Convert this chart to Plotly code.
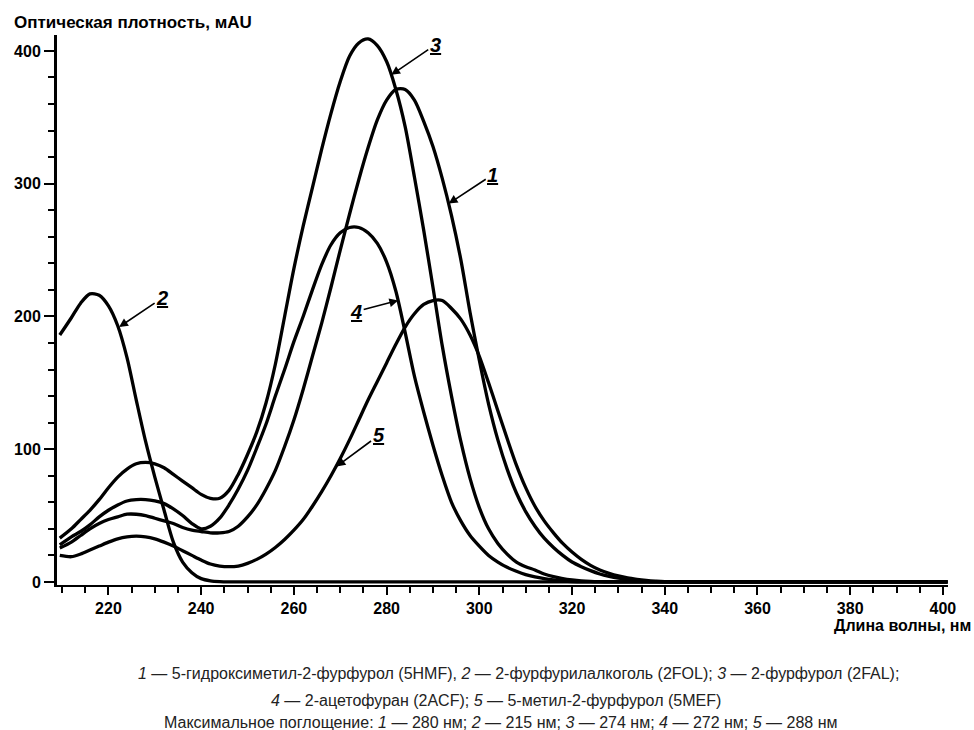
import plotly.graph_objects as go

# ---------------- data ----------------
WAVELENGTH = [209.5, 212, 214, 216, 218, 220, 222, 224, 226, 228,
              230, 232, 234, 236, 238, 240, 242, 244, 246, 248,
              250, 252, 254, 256, 258, 260, 262, 264, 266, 268,
              270, 272, 274, 276, 278, 280, 282, 284, 286, 288,
              290, 292, 294, 296, 298, 300, 302, 304, 306, 308,
              310, 312, 314, 316, 318, 320, 322, 324, 326, 328,
              330, 332, 334, 336, 338, 340, 360, 380, 401]

# 1 - 5-гидроксиметил-2-фурфурол (5HMF)
HMF_5 = [25.5, 30, 35, 40, 44, 47, 49, 51, 51, 50,
         48, 46, 44, 41, 39, 38, 37, 37, 38, 42,
         49, 58, 70, 84, 102, 122, 145, 170, 195, 222,
         250, 277, 303, 327, 348, 363, 371, 371, 363, 347,
         328, 304, 276, 243, 203, 167, 134, 107, 85, 67,
         53, 42, 33, 26, 20, 15, 11.5, 8.5, 6, 4.2,
         2.8, 1.8, 1, 0.5, 0.2, 0, 0, 0, 0]

# 2 - 2-фурфурилалкоголь (2FOL)
FOL_2 = [186, 199, 210, 217, 216, 208, 193, 169, 137, 106,
         79, 54, 30, 15, 7, 2.5, 0.8, 0.2, 0, 0,
         0, 0, 0, 0, 0, 0, 0, 0, 0, 0,
         0, 0, 0, 0, 0, 0, 0, 0, 0, 0,
         0, 0, 0, 0, 0, 0, 0, 0, 0, 0,
         0, 0, 0, 0, 0, 0, 0, 0, 0, 0,
         0, 0, 0, 0, 0, 0, 0, 0, 0]

# 3 - 2-фурфурол (2FAL)
FAL_2 = [33, 40, 47, 54, 62, 71, 79, 85, 89, 90,
         89, 86, 81, 76, 71, 66, 63, 63, 69, 81,
         96, 113, 135, 164, 200, 236, 268, 297, 326, 353,
         377, 396, 406, 409, 404, 392, 371, 343, 305, 265,
         222, 178, 140, 106, 78, 56, 40, 29, 21, 15,
         11.5, 9, 6, 4, 2.5, 1.5, 0.8, 0.4, 0.2, 0.1,
         0, 0, 0, 0, 0, 0, 0, 0, 0]

# 4 - 2-ацетофуран (2ACF)
ACF_2 = [28, 34, 38, 43, 49, 54, 58, 61, 62, 62,
         61, 59, 55, 50, 44, 40, 42, 48, 58, 70,
         84, 101, 119, 140, 160, 181, 200, 220, 239, 254,
         263, 267, 267, 263, 255, 241, 219, 188, 155, 128,
         103, 80, 60, 46, 35, 27, 20, 15, 11, 8,
         5.5, 3.8, 2.5, 1.5, 0.8, 0.3, 0, 0, 0, 0,
         0, 0, 0, 0, 0, 0, 0, 0, 0]

# 5 - 5-метил-2-фурфурол (5MEF)
MEF_5 = [20, 19, 21, 24, 27, 30, 32.5, 34, 34.5, 34,
         32.5, 30, 27, 23.5, 20, 16.5, 13.5, 12, 11.5, 12,
         14, 17, 21, 26, 32, 39, 47, 57, 68, 80,
         93, 107, 122, 137, 151, 165, 179, 192, 202, 209,
         212, 212, 206, 198, 186, 170, 150, 129, 108, 88,
         71, 57, 46, 37, 29, 22.5, 17, 12.5, 9, 6.5,
         4.5, 3, 2, 1.2, 0.6, 0.2, 0, 0, 0]

SERIES_NAMES = ["5HMF", "2FOL", "2FAL", "2ACF", "5MEF"]

X_TICK_START, X_TICK_STEP = 220, 20
Y_TICK_START, Y_TICK_STEP = 0, 100

Y_TITLE = "Оптическая плотность, мAU"
X_TITLE = "Длина волны, нм"
CAPTION_LINES = [
    "<i>1</i> — 5-гидроксиметил-2-фурфурол (5HMF), <i>2</i> — 2-фурфурилалкоголь (2FOL); <i>3</i> — 2-фурфурол (2FAL);",
    "<i>4</i> — 2-ацетофуран (2ACF); <i>5</i> — 5-метил-2-фурфурол (5MEF)",
    "Максимальное поглощение: <i>1</i> — 280 нм; <i>2</i> — 215 нм; <i>3</i> — 274 нм; <i>4</i> — 272 нм; <i>5</i> — 288 нм",
]

# ---------------- figure ----------------
FONT = "Liberation Sans, Arial, sans-serif"
series = [HMF_5, FOL_2, FAL_2, ACF_2, MEF_5]

fig = go.Figure()
for name, vals in zip(SERIES_NAMES, series):
    fig.add_trace(go.Scatter(
        x=WAVELENGTH, y=vals, name=name, mode="lines",
        line=dict(color="black", width=3.3, shape="spline", smoothing=0.8),
        hoverinfo="x+y+name",
    ))

# curve number labels (arrow tip on the curve, text offset in px)
label_specs = [
    # number, tip x, tip y, ax, ay
    ("3", 281.0, 382, 44, -30),
    ("1", 293.4, 285, 44, -29),
    ("2", 222.3, 192, 43, -29),
    ("4", 282.5, 212, -42, 11),
    ("5", 269.2, 87, 42, -31),
]
for num, tx, ty, ax, ay in label_specs:
    fig.add_annotation(
        x=tx, y=ty, xref="x", yref="y", ax=ax, ay=ay,
        text="<u><b><i>" + num + "</i></b></u>",
        showarrow=True, arrowhead=2, arrowsize=1.1, arrowwidth=1.6,
        arrowcolor="black", standoff=0, startstandoff=0,
        font=dict(family=FONT, size=20, color="black"),
    )

# axis titles
fig.add_annotation(
    x=-0.0505, y=1.0236, xref="paper", yref="paper",
    xanchor="left", yanchor="middle", showarrow=False,
    text="<b>" + Y_TITLE + "</b>",
    font=dict(family=FONT, size=17, color="black"),
)
fig.add_annotation(
    x=1.028, y=-0.0745, xref="paper", yref="paper",
    xanchor="right", yanchor="middle", showarrow=False,
    text="<b>" + X_TITLE + "</b>",
    font=dict(family=FONT, size=16, color="black"),
)

# caption
caption_pos = [(0.5174, -0.1618), (0.4927, -0.2091), (0.4983, -0.2509)]
for line, (cx, cy) in zip(CAPTION_LINES, caption_pos):
    fig.add_annotation(
        x=cx, y=cy, xref="paper", yref="paper",
        xanchor="center", yanchor="middle", showarrow=False,
        text=line, font=dict(family=FONT, size=16, color="#222222"),
    )

tickfont = dict(family=FONT, size=16, color="black", weight="bold")

fig.update_xaxes(
    range=[208.9, 401.1],
    tickmode="linear", tick0=X_TICK_START, dtick=X_TICK_STEP,
    ticks="outside", ticklen=8, tickwidth=2, tickcolor="black",
    showline=True, linewidth=2, linecolor="black",
    showgrid=False, zeroline=False, tickfont=tickfont,
    ticklabelstandoff=0,
    minor=dict(tickmode="linear", tick0=210, dtick=5, ticks="outside",
               ticklen=6, tickwidth=2, tickcolor="black", showgrid=False),
)
fig.update_yaxes(
    range=[-2.3, 412],
    tickmode="linear", tick0=Y_TICK_START, dtick=Y_TICK_STEP,
    ticks="outside", ticklen=10, tickwidth=2, tickcolor="black",
    showline=True, linewidth=3, linecolor="black",
    showgrid=False, zeroline=False, tickfont=tickfont,
    minor=dict(tickmode="linear", tick0=0, dtick=20, ticks="outside",
               ticklen=6, tickwidth=2, tickcolor="black", showgrid=False),
)

fig.update_layout(
    width=974, height=730,
    margin=dict(l=57, r=26, t=35, b=145, pad=0),
    paper_bgcolor="white", plot_bgcolor="white",
    showlegend=False,
    font=dict(family=FONT, color="black"),
)

fig.write_html(
    "out.html",
    config={"displayModeBar": False},
    post_script="document.body.style.margin='0px';document.body.style.overflow='hidden';",
)
